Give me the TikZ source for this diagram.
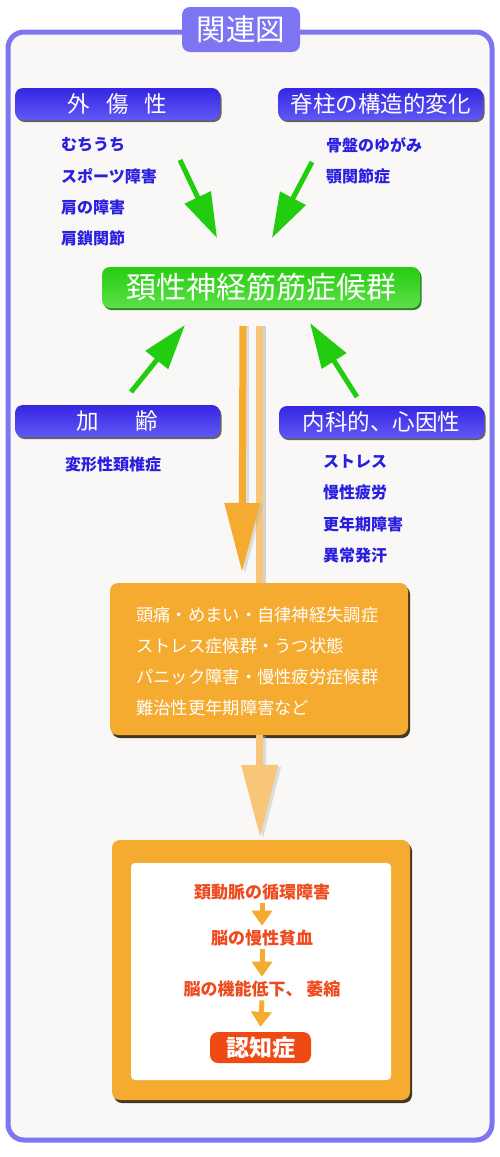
\documentclass[tikz,border=0pt]{standalone}
\usepackage{fontspec}
\setmainfont{Noto Sans CJK JP}
\usetikzlibrary{arrows.meta,shadows,calc}
\definecolor{framec}{HTML}{7D75F1}
\definecolor{bgc}{HTML}{F9F8F6}
\definecolor{blueA}{HTML}{3526E2}
\definecolor{blueB}{HTML}{6058F6}
\definecolor{bluetxt}{HTML}{2A1EE0}
\definecolor{greenA}{HTML}{26CC10}
\definecolor{greenB}{HTML}{5CE048}
\definecolor{garrowc}{HTML}{22CC0E}
\definecolor{orangec}{HTML}{F5AB2F}
\definecolor{lorangec}{HTML}{F7C678}
\definecolor{redtxt}{HTML}{EE4A1E}
\definecolor{redbox}{HTML}{F04A14}
\tikzset{
  hdr/.style={rounded corners=8pt, minimum width=205pt, minimum height=32pt, inner sep=0pt,
    top color=blueA, bottom color=blueB, text=white, font=\fontsize{22.5}{22.5}\selectfont,
    drop shadow={shadow xshift=1.5pt, shadow yshift=-2pt, fill=black!75, opacity=0.8}},
  item/.style={anchor=west, inner sep=0pt, text=bluetxt, font=\bfseries\fontsize{16}{16}\selectfont},
  garrow/.style={draw=garrowc, line width=5pt, -{Triangle[length=45pt,width=28pt]}},
  obox/.style={fill=orangec, rounded corners=8pt, inner sep=0pt,
    drop shadow={shadow xshift=2pt, shadow yshift=-3pt, fill=black!80!orangec, opacity=0.9}},
  otext/.style={anchor=west, inner sep=0pt, text=white, font=\fontsize{17.3}{17.3}\selectfont},
  rtext/.style={inner sep=1pt, text=redtxt, font=\bfseries\fontsize{17}{17}\selectfont},
  sarrow/.style={draw=orangec, line width=5pt, -{Triangle[length=15pt,width=20pt]}},
}
\begin{document}
\begin{tikzpicture}[x=1pt,y=-1pt]
\useasboundingbox[fill=white] (0,0) rectangle (500,1157);
% outer frame
\draw[framec, line width=5pt, rounded corners=16pt, fill=bgc] (8,32) rectangle (492,1140);
\node[fill=framec, rounded corners=8pt, minimum width=118pt, minimum height=45pt, inner sep=0pt,
  text=white, font=\fontsize{29.5}{29.5}\selectfont] (title) at (241,29.5) {関連図};

% headers
\node[hdr] (h1) at (117.5,104) {外\hspace{16pt}傷\hspace{16pt}性};
\node[hdr] (h2) at (380.5,104) {脊柱の構造的変化};
\node[hdr] (h3) at (117.5,421) {加\hspace{37pt}齢};
\node[hdr] (h4) at (381.5,422) {内科的、心因性};

% items
\node[item] (a1) at (61,145) {むちうち};
\node[item] (a2) at (61,176) {スポーツ障害};
\node[item] (a3) at (61,207.5) {肩の障害};
\node[item] (a4) at (61,238) {肩鎖関節};
\node[item] (b1) at (326,145) {骨盤のゆがみ};
\node[item] (b2) at (326,176) {顎関節症};
\node[item] (c1) at (65,464) {変形性頚椎症};
\node[item] (d1) at (323,462) {ストレス};
\node[item] (d2) at (323,492) {慢性疲労};
\node[item] (d3) at (323,524) {更年期障害};
\node[item] (d4) at (323,555) {異常発汗};

% central green box
\node[rounded corners=8pt, minimum width=318pt, minimum height=41pt, inner sep=0pt,
  top color=greenA, bottom color=greenB, text=white, font=\fontsize{30}{30}\selectfont,
  drop shadow={shadow xshift=1.5pt, shadow yshift=-2pt, fill=black!60!green, opacity=0.8}]
  (main) at (261,287.5) {頚性神経筋筋症候群};

% green arrows
\coordinate (g1s) at (180,160); \coordinate (g1e) at (217,238);
\coordinate (g2s) at (312,162); \coordinate (g2e) at (272,238);
\coordinate (g3s) at (131,392); \coordinate (g3e) at (185,325);
\coordinate (g4s) at (357,397); \coordinate (g4e) at (310,323);
\draw[garrow] (g1s) -- (g1e);
\draw[garrow] (g2s) -- (g2e);
\draw[garrow] (g3s) -- (g3e);
\draw[garrow] (g4s) -- (g4e);

% orange box 1
\node[obox, minimum width=298pt, minimum height=152pt] (ob1) at (259,659) {};
\node[otext] (t1) at (136,615) {頭痛・めまい・自律神経失調症};
\node[otext] (t2) at (136,646) {ストレス症候群・うつ状態};
\node[otext] (t3) at (136,677) {パニック障害・慢性疲労症候群};
\node[otext] (t4) at (136,708) {難治性更年期障害など};

% orange box 2
\node[obox, minimum width=298pt, minimum height=260pt] (ob2) at (261,970) {};
\node[fill=white, rounded corners=4pt, minimum width=260pt, minimum height=217pt, inner sep=0pt] (inner) at (261,971.5) {};
\node[rtext] (r1) at (262,892) {頚動脈の循環障害};
\node[rtext] (r2) at (262,938) {脳の慢性貧血};
\node[rtext] (r3) at (262,989) {脳の機能低下、 萎縮};
\node[fill=redbox, rounded corners=8pt, minimum width=101pt, minimum height=31pt, inner sep=0pt,
  text=white, font=\bfseries\fontsize{23}{23}\selectfont] (r4) at (260.5,1047.5) {認知症};
\draw[sarrow] ($(r1.south)+(0,2)$) -- ($(r2.north)+(0,-3)$);
\draw[sarrow] ($(r2.south)+(0,2)$) -- ($(r3.north)+(0,-3)$);
\draw[sarrow] ($(r3.south)+(0,2)$) -- ($(r4.north)+(0,-5)$);

% orange arrows (shadows first)
\coordinate (dS) at (243,326); \coordinate (dE) at (242,572);
\coordinate (lS) at (259.5,326);
\coordinate (mE) at (260,837);
\draw[gray, line width=7pt, opacity=0.3] (262.5,326) -- (262.5,583);
\draw[lorangec, line width=7pt] (lS) -- (ob1.north -| lS);
\draw[black!30, line width=7pt, opacity=0.4, -{Triangle[length=69pt,width=34pt]}] (245,326) -- (245,574);
\draw[orangec, line width=7pt, -{Triangle[length=69pt,width=34pt]}] (dS) -- (dE);
\draw[black!30, line width=7pt, opacity=0.4, -{Triangle[length=72pt,width=35pt]}] (262.5,736) -- (263,839);
\draw[lorangec, line width=7pt, -{Triangle[length=72pt,width=35pt]}] (ob1.south -| lS) -- (mE);
\end{tikzpicture}
\end{document}
